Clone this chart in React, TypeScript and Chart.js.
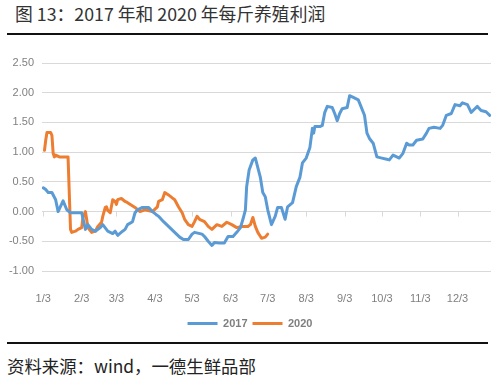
import React, { useEffect, useRef } from "react";
import { Chart, registerables } from "chart.js";

Chart.register(...registerables);

const titleText = "图 13：2017 年和 2020 年每斤养殖利润";
const sourceText = "资料来源：wind，一德生鲜品部";

const tickDays = [0, 31, 59, 90, 120, 151, 181, 212, 243, 273, 304, 334];
const tickLabels = ["1/3", "2/3", "3/3", "4/3", "5/3", "6/3", "7/3", "8/3", "9/3", "10/3", "11/3", "12/3"];

const days2017 = [0,2,4,7,10,12,16,19,22,31,34,36,39,42,46,48,52,56,58,60,64,66,68,72,74,76,80,85,88,93,97,101,106,110,113,117,120,122,128,130,133,136,138,142,146,149,153,156,159,161,163,164,166,169,171,172,175,177,179,181,184,187,189,192,195,197,201,204,207,209,212,215,217,218,219,223,225,227,229,233,235,237,239,241,245,247,250,254,255,259,261,263,266,269,273,277,279,282,285,287,290,293,295,298,301,306,309,311,315,320,322,325,329,332,336,338,342,345,348,350,353,357,360];
const values2017 = [0.40,0.37,0.32,0.32,0.20,0.00,0.18,0.03,-0.02,-0.02,-0.30,-0.22,-0.30,-0.33,-0.27,-0.22,-0.33,-0.37,-0.33,-0.40,-0.33,-0.30,-0.22,-0.17,-0.02,0.03,0.07,0.07,0.00,-0.08,-0.17,-0.25,-0.35,-0.43,-0.47,-0.47,-0.38,-0.35,-0.38,-0.42,-0.50,-0.57,-0.52,-0.53,-0.53,-0.42,-0.42,-0.35,-0.27,-0.13,0.03,0.42,0.70,0.87,0.90,0.82,0.58,0.32,0.25,0.03,-0.22,-0.08,0.07,0.07,-0.13,0.08,0.15,0.42,0.58,0.82,0.90,1.08,1.40,1.32,1.43,1.43,1.45,1.67,1.77,1.75,1.65,1.53,1.65,1.73,1.75,1.95,1.92,1.88,1.83,1.62,1.32,1.23,1.15,0.92,0.90,0.88,0.87,0.95,0.92,0.90,0.98,1.15,1.12,1.12,1.20,1.22,1.32,1.40,1.42,1.40,1.45,1.62,1.65,1.80,1.78,1.83,1.80,1.67,1.73,1.77,1.70,1.68,1.62];

const days2020 = [1,2,3,6,7,8,9,10,13,20,22,23,26,28,31,32,34,35,36,39,42,44,47,48,50,51,52,54,56,58,59,60,63,66,68,74,78,82,88,92,93,96,98,101,104,106,109,112,114,117,120,122,124,126,130,133,136,140,144,148,152,156,160,165,167,169,171,173,176,179,181];
const values2020 = [1.03,1.20,1.33,1.33,1.28,0.98,0.92,0.95,0.92,0.92,-0.30,-0.35,-0.33,-0.30,-0.27,-0.10,0.00,-0.13,-0.27,-0.35,-0.33,-0.25,-0.18,-0.08,0.07,0.08,0.02,-0.02,0.20,0.17,0.12,0.20,0.22,0.17,0.15,0.07,0.00,0.03,0.00,0.08,0.17,0.20,0.32,0.28,0.23,0.20,0.08,-0.02,-0.13,-0.22,-0.25,-0.17,-0.08,-0.13,-0.17,-0.25,-0.30,-0.22,-0.25,-0.18,-0.22,-0.27,-0.25,-0.25,-0.22,-0.10,-0.25,-0.35,-0.45,-0.43,-0.38];

const seriesNames = ["2017", "2020"];
const seriesColors = ["#5B9BD5", "#ED7D31"];

const zeroTickMarks = {
  id: "zeroTickMarks",
  beforeDatasetsDraw(chart: any) {
    const { ctx, scales } = chart;
    const x = scales.x;
    const y = scales.y;
    const py = y.getPixelForValue(0);
    ctx.save();
    ctx.strokeStyle = "#d9d9d9";
    ctx.lineWidth = 1;
    x.ticks.forEach((t: any) => {
      const px = Math.round(x.getPixelForValue(t.value)) + 0.5;
      ctx.beginPath();
      ctx.moveTo(px, py);
      ctx.lineTo(px, py + 5);
      ctx.stroke();
    });
    ctx.restore();
  },
};

function LineChart() {
  const ref = useRef<HTMLCanvasElement | null>(null);
  useEffect(() => {
    if (!ref.current) return;
    const chart = new Chart(ref.current, {
      type: "line",
      data: {
        datasets: [
          {
            label: seriesNames[0],
            data: days2017.map((d, i) => ({ x: d, y: values2017[i] })),
            borderColor: seriesColors[0],
            backgroundColor: seriesColors[0],
            borderWidth: 3,
            pointRadius: 0,
            borderJoinStyle: "round",
            borderCapStyle: "round",
            tension: 0,
          },
          {
            label: seriesNames[1],
            data: days2020.map((d, i) => ({ x: d, y: values2020[i] })),
            borderColor: seriesColors[1],
            backgroundColor: seriesColors[1],
            borderWidth: 3,
            pointRadius: 0,
            borderJoinStyle: "round",
            borderCapStyle: "round",
            tension: 0,
          },
        ],
      },
      options: {
        animation: false,
        responsive: false,
        devicePixelRatio: 1,
        layout: { padding: { top: 23, right: 9, left: 9, bottom: 1 } },
        plugins: {
          tooltip: { enabled: false },
          legend: {
            position: "bottom",
            labels: {
              usePointStyle: true,
              pointStyle: "line",
              pointStyleWidth: 30,
              padding: 5,
              color: "#7f7f7f",
              font: { size: 11, weight: "bold", family: "'Liberation Sans', Arial, sans-serif" },
            },
          },
        },
        scales: {
          x: {
            type: "linear",
            min: -1,
            max: 361,
            grid: { display: false },
            border: { display: false },
            afterBuildTicks: (axis: any) => {
              axis.ticks = tickDays.map((v) => ({ value: v }));
            },
            afterFit: (s: any) => {
              s.height = 42;
            },
            ticks: {
              autoSkip: false,
              maxRotation: 0,
              padding: 13,
              color: "#808080",
              font: { size: 11, family: "'Liberation Sans', Arial, sans-serif" },
              callback: (v: any) => {
                const i = tickDays.indexOf(v);
                return i >= 0 ? tickLabels[i] : "";
              },
            },
          },
          y: {
            min: -1,
            max: 2.5,
            grid: { color: "#d9d9d9", drawTicks: false, lineWidth: 1 },
            border: { display: false },
            afterFit: (s: any) => {
              s.width = 33;
            },
            ticks: {
              stepSize: 0.5,
              padding: 8,
              color: "#808080",
              font: { size: 11, family: "'Liberation Sans', Arial, sans-serif" },
              callback: (v: any) => Number(v).toFixed(2),
            },
          },
        },
      },
      plugins: [zeroTickMarks],
    } as any);
    return () => chart.destroy();
  }, []);
  return (
    <canvas
      ref={ref}
      width={500}
      height={300}
      style={{ position: "absolute", left: 0, top: 40, width: 500, height: 300 }}
    />
  );
}

export default function App() {
  return (
    <div
      style={{
        position: "fixed",
        left: 0,
        top: 0,
        width: 500,
        height: 379,
        background: "#ffffff",
        overflow: "hidden",
        fontFamily: "'Noto Sans CJK SC', 'Noto Sans', sans-serif",
      }}
    >
      <div
        style={{
          position: "absolute",
          left: 15,
          top: 3,
          fontSize: 17.8,
          lineHeight: "20px",
          color: "#333333",
          whiteSpace: "nowrap",
        }}
      >
        {titleText}
      </div>
      <div style={{ position: "absolute", left: 7, top: 33, width: 481, height: 2, background: "#111" }} />
      <LineChart />
      <div style={{ position: "absolute", left: 7, top: 342, width: 481, height: 2, background: "#111" }} />
      <div
        style={{
          position: "absolute",
          left: 7,
          top: 355,
          fontSize: 17.4,
          lineHeight: "22px",
          color: "#222222",
          whiteSpace: "nowrap",
        }}
      >
        {sourceText}
      </div>
    </div>
  );
}
